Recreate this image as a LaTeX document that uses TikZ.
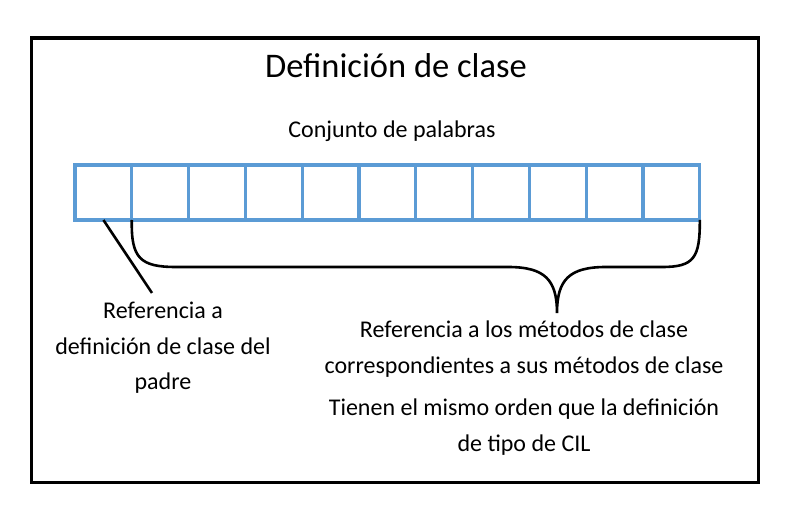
\documentclass[tikz,border=0pt]{standalone}
\usepackage{fontspec}
\setmainfont{Carlito}
\definecolor{cellblue}{HTML}{5B9BD5}
\begin{document}
\begin{tikzpicture}[
  x=1pt, y=-1pt,
  cell/.style={rectangle, draw=cellblue, line width=3.2pt, minimum width=56.8pt,
               minimum height=55pt, outer sep=0pt, inner sep=0pt},
  txt/.style={align=center, font=\fontsize{24}{35.5}\selectfont},
  conn/.style={line width=2.6pt}
]
  \useasboundingbox (0,0) rectangle (793,510);
  \draw[line width=3.6pt] (31.5,38) rectangle (758.5,482.5);

  \node[font=\fontsize{34.5}{40}\selectfont] (title) at (396,66) {Definición de clase};
  \node[txt] (words) at (392,131) {Conjunto de palabras};

  % Celdas
  \foreach \i in {1,...,11}
    \node[cell] (c\i) at ({75+56.8*(\i-0.5)},192.5) {};

  \node[txt] (parent) at (163,348) {Referencia a\\definición de clase del\\padre};
  \node[txt] (methods) at (524,349) {Referencia a los métodos de clase\\correspondientes a sus métodos de clase};
  \node[txt] (order) at (524,427) {Tienen el mismo orden que la definición\\de tipo de CIL};

  \coordinate (lineend) at (152,293);
  \coordinate (tip) at (557,313);

  \draw[conn] (c1.south) -- (lineend);
  \draw[conn] (c2.south west) .. controls (131,258) and (140,267) .. (176,267)
    -- (508,267) .. controls (545,267) and (557,280) .. (tip)
    .. controls (557,280) and (569,267) .. (606,267)
    -- (662,267) .. controls (694,267) and (700,258) .. (c11.south east);
\end{tikzpicture}
\end{document}
